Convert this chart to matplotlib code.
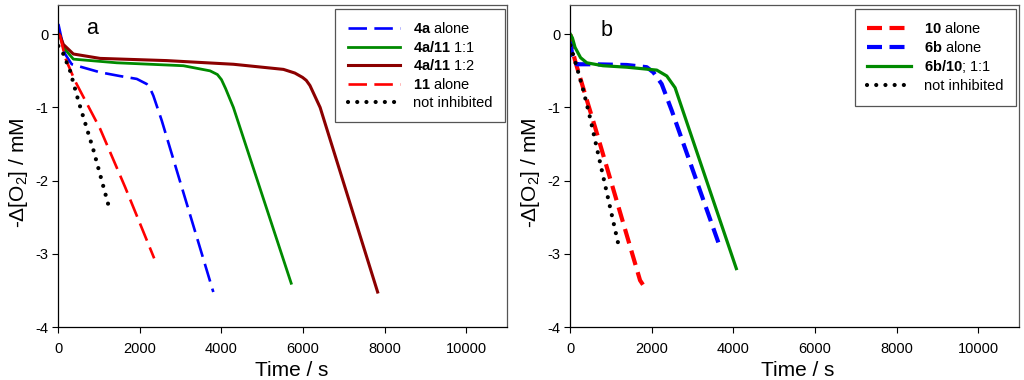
import matplotlib
matplotlib.use("Agg")
import matplotlib.pyplot as plt

plt.rcParams['font.family'] = ['Liberation Sans', 'DejaVu Sans']
plt.rcParams['mathtext.fontset'] = 'custom'
plt.rcParams['mathtext.rm'] = 'Liberation Sans'
plt.rcParams['mathtext.bf'] = 'Liberation Sans:bold'
plt.rcParams['axes.unicode_minus'] = False

# --- panel a ---
t_4a = [0, 82, 164, 328, 1023, 1500, 1923, 2168, 2250, 2330, 2536, 3800]
y_4a = [0.14, -0.07, -0.27, -0.41, -0.52, -0.57, -0.61, -0.68, -0.74, -0.84, -1.18, -3.52]

t_4a11_11 = [0, 42, 123, 368, 1432, 3066, 3721, 3900, 4000, 4100, 4293, 5710]
y_4a11_11 = [0, -0.02, -0.18, -0.34, -0.39, -0.43, -0.50, -0.55, -0.62, -0.74, -1.00, -3.40]

t_4a11_12 = [0, 25, 123, 368, 1023, 2658, 3966, 4293, 5520, 5800, 5990, 6080, 6170, 6420, 7830]
y_4a11_12 = [0, 0, -0.14, -0.27, -0.33, -0.36, -0.40, -0.41, -0.48, -0.53, -0.59, -0.63, -0.70, -1.00, -3.52]

t_11 = [0, 42, 165, 410, 1023, 1639, 2350]
y_11 = [0, -0.02, -0.32, -0.64, -1.29, -2.09, -3.06]

t_ni_a = [0, 100, 287, 491, 859, 1236]
y_ni_a = [-0.16, -0.24, -0.50, -0.91, -1.58, -2.35]

# --- panel b ---
t_10 = [0, 34, 115, 238, 361, 606, 1709, 1780]
y_10 = [0, -0.18, -0.36, -0.59, -0.82, -1.27, -3.36, -3.42]

t_6b = [0, 50, 158, 566, 1383, 1873, 2036, 2240, 2485, 3640]
y_6b = [-0.10, -0.30, -0.41, -0.41, -0.42, -0.45, -0.52, -0.68, -1.04, -2.86]

t_6b10 = [0, 50, 115, 250, 402, 800, 1383, 2119, 2364, 2568, 4070]
y_6b10 = [0, -0.05, -0.18, -0.32, -0.39, -0.43, -0.45, -0.49, -0.57, -0.73, -3.20]

t_ni_b = [0, 158, 320, 483, 1202]
y_ni_b = [-0.15, -0.45, -0.77, -1.14, -2.93]

x_ticks = [0, 2000, 4000, 6000, 8000, 10000]
y_ticks = [0, -1, -2, -3, -4]

BLUE = '#0000ff'
GREEN = '#008a00'
DKRED = '#8b0000'
RED = '#ff0000'

fig = plt.figure(figsize=(10.24, 3.8), dpi=100)
ax_a = fig.add_axes([0.057, 0.139, 0.438, 0.848])
ax_b = fig.add_axes([0.557, 0.139, 0.438, 0.848])

dot = (0, (0.01, 2.2))

ax_a.plot(t_4a, y_4a, color=BLUE, lw=1.9, ls=(0, (7, 2.8)), label=r'$\mathbf{4a}$ alone')
ax_a.plot(t_4a11_11, y_4a11_11, color=GREEN, lw=2.0, label=r'$\mathbf{4a/11}$ 1:1')
ax_a.plot(t_4a11_12, y_4a11_12, color=DKRED, lw=2.2, label=r'$\mathbf{4a/11}$ 1:2')
ax_a.plot(t_11, y_11, color=RED, lw=1.9, ls=(0, (7, 2.8)), label=r'$\mathbf{11}$ alone')
ax_a.plot(t_ni_a, y_ni_a, color='black', lw=3.0, ls=dot, dash_capstyle='round',
          label='not inhibited')

ax_b.plot(t_10, y_10, color=RED, lw=3.0, ls=(0, (3.6, 1.8)), label=r'$\mathbf{10}$ alone')
ax_b.plot(t_6b, y_6b, color=BLUE, lw=3.0, ls=(0, (3.6, 1.8)), label=r'$\mathbf{6b}$ alone')
ax_b.plot(t_6b10, y_6b10, color=GREEN, lw=2.3, label=r'$\mathbf{6b/10}$; 1:1')
ax_b.plot(t_ni_b, y_ni_b, color='black', lw=3.0, ls=dot, dash_capstyle='round',
          label='not inhibited')

# panel letter positions and x-label centres differ a little between panels
panels = [(ax_a, 'a', 0.062, 0.91, 0.52), (ax_b, 'b', 0.068, 0.905, 0.506)]
for ax, letter, lx, ly, xlab_x in panels:
    ax.set_xlim(0, 11000)
    ax.set_ylim(-4, 0.4)
    ax.set_xticks(x_ticks)
    ax.set_yticks(y_ticks)
    ax.tick_params(direction='out', length=4, width=0.8, labelsize=10.5)
    ax.tick_params(axis='x', pad=7)
    ax.tick_params(axis='y', pad=3)
    for s in ['left', 'bottom']:
        ax.spines[s].set_color('black')
        ax.spines[s].set_linewidth(0.9)
    for s in ['top', 'right']:
        ax.spines[s].set_color('#555555')
        ax.spines[s].set_linewidth(0.9)
    ax.set_xlabel('Time / s', fontsize=15)
    ax.set_ylabel(r'-$\Delta$[O$_2$] / mM', fontsize=15)
    ax.xaxis.set_label_coords(xlab_x, -0.105)
    ax.yaxis.set_label_coords(-0.064, 0.48)
    ax.text(lx, ly, letter, transform=ax.transAxes, fontsize=15.5, va='baseline', ha='left')

leg_a = ax_a.legend(loc='upper right', bbox_to_anchor=(0.996, 0.988), borderaxespad=0,
                    fontsize=10.5, handlelength=3.6, handletextpad=0.9, labelspacing=0.25,
                    borderpad=0.85, fancybox=False, framealpha=1, edgecolor='#555555')
leg_b = ax_b.legend(loc='upper right', bbox_to_anchor=(0.993, 0.988), borderaxespad=0,
                    fontsize=10.5, handlelength=3.0, handletextpad=0.9, labelspacing=0.25,
                    borderpad=0.85, fancybox=False, framealpha=1, edgecolor='#555555')
for leg in (leg_a, leg_b):
    leg.get_frame().set_linewidth(0.9)

fig.savefig('out.png', dpi=100)
